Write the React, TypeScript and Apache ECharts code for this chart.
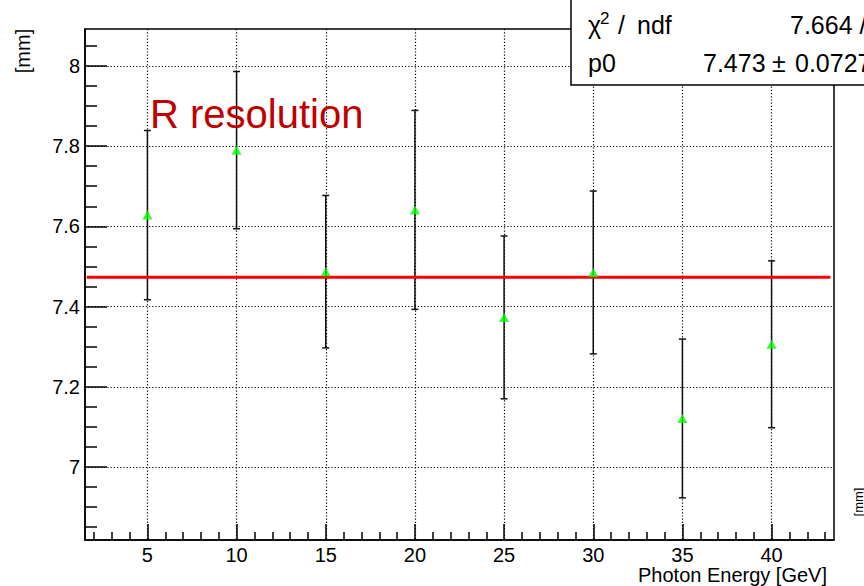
import React, { useEffect, useRef } from "react";
import * as echarts from "echarts";

// ---- data ----
const energies = [5, 10, 15, 20, 25, 30, 35, 40];
const resolution = [7.628, 7.79, 7.487, 7.641, 7.373, 7.485, 7.121, 7.306];
const resolutionErr = [0.211, 0.196, 0.19, 0.248, 0.203, 0.203, 0.198, 0.208];
const fitP0 = 7.473;
const fitRange = [1.6, 43.3];

const xRange = [1.5, 43.5];
const yRange = [6.818, 8.092];
const xMajorTicks = [5, 10, 15, 20, 25, 30, 35, 40];
const xMinorTicks = [2, 3, 4, 6, 7, 8, 9, 11, 12, 13, 14, 16, 17, 18, 19, 21, 22, 23, 24, 26, 27, 28, 29, 31, 32, 33, 34, 36, 37, 38, 39, 41, 42, 43];
const yMajorTicks = [7, 7.2, 7.4, 7.6, 7.8, 8];
const yMinorTicks = [6.85, 6.9, 6.95, 7.05, 7.1, 7.15, 7.25, 7.3, 7.35, 7.45, 7.5, 7.55, 7.65, 7.7, 7.75, 7.85, 7.9, 7.95, 8.05];

const statsChi2 = "7.664 / 7";
const statsP0 = "7.473";
const statsP0Err = "0.0727";

const FONT = "'Liberation Sans', Arial, Helvetica, sans-serif";

export default function App() {
  const ref = useRef<HTMLDivElement>(null);
  useEffect(() => {
    if (!ref.current) return;
    const chart = echarts.init(ref.current, undefined, { renderer: "svg" });
    const axisLineStyle = { color: "#000", width: 1.5 };
    const gridLine = { color: "#000", width: 1.2, type: [1.2, 2] };
    const errData = energies.map((e, i) => [e, resolution[i] - resolutionErr[i], resolution[i] + resolutionErr[i]]);
    const option: any = {
      animation: false,
      backgroundColor: "#fff",
      textStyle: { fontFamily: FONT },
      grid: { left: 85, top: 29, right: 30, bottom: 46, show: true, borderColor: "#000", borderWidth: 1.5, backgroundColor: "transparent" },
      xAxis: [
        {
          type: "value", min: xRange[0], max: xRange[1], position: "bottom",
          axisLine: { show: true, lineStyle: axisLineStyle },
          axisTick: { show: true, inside: true, length: 16, customValues: xMajorTicks, lineStyle: { color: "#000", width: 1.5 } },
          axisLabel: { show: true, customValues: xMajorTicks, fontSize: 20, color: "#000", fontFamily: FONT, margin: 5 },
          splitLine: { show: true, lineStyle: gridLine },
          minorTick: { show: false },
        },
        {
          type: "value", min: xRange[0], max: xRange[1], position: "bottom",
          axisLine: { show: false },
          axisTick: { show: true, inside: true, length: 8, customValues: xMinorTicks, lineStyle: { color: "#000", width: 1.5 } },
          axisLabel: { show: false },
          splitLine: { show: false },
        },
      ],
      yAxis: [
        {
          type: "value", min: yRange[0], max: yRange[1], position: "left",
          axisLine: { show: true, lineStyle: axisLineStyle },
          axisTick: { show: true, inside: true, length: 22, customValues: yMajorTicks, lineStyle: { color: "#000", width: 1.5 } },
          axisLabel: { show: true, customValues: yMajorTicks, fontSize: 20, color: "#000", fontFamily: FONT, margin: 5 },
          splitLine: { show: true, lineStyle: gridLine },
        },
        {
          type: "value", min: yRange[0], max: yRange[1], position: "left",
          axisLine: { show: false },
          axisTick: { show: true, inside: true, length: 12, customValues: yMinorTicks, lineStyle: { color: "#000", width: 1.5 } },
          axisLabel: { show: false },
          splitLine: { show: false },
        },
      ],
      series: [
        {
          type: "custom",
          name: "errors",
          xAxisIndex: 0, yAxisIndex: 0,
          data: errData,
          encode: { x: 0, y: [1, 2] },
          z: 3,
          renderItem: (params: any, api: any) => {
            const x = api.value(0);
            const lo = api.coord([x, api.value(1)]);
            const hi = api.coord([x, api.value(2)]);
            const st = { stroke: "#111", lineWidth: 1.5 };
            const cw = 3.5;
            return {
              type: "group",
              children: [
                { type: "line", shape: { x1: lo[0], y1: lo[1], x2: hi[0], y2: hi[1] }, style: st },
                { type: "line", shape: { x1: hi[0] - cw, y1: hi[1], x2: hi[0] + cw, y2: hi[1] }, style: st },
                { type: "line", shape: { x1: lo[0] - cw, y1: lo[1], x2: lo[0] + cw, y2: lo[1] }, style: st },
              ],
            };
          },
        },
        {
          type: "line",
          name: "fit",
          xAxisIndex: 0, yAxisIndex: 0,
          data: [[fitRange[0], fitP0], [fitRange[1], fitP0]],
          showSymbol: false,
          symbol: "none",
          lineStyle: { color: "#ff0000", width: 3 },
          z: 4,
        },
        {
          type: "scatter",
          name: "points",
          xAxisIndex: 0, yAxisIndex: 0,
          data: energies.map((e, i) => [e, resolution[i]]),
          symbol: "triangle",
          symbolSize: [10, 9],
          itemStyle: { color: "#00ff00" },
          z: 5,
        },
      ],
      graphic: [
        { type: "text", x: 150, y: 114, z: 10, style: { text: "R resolution", fontSize: 40, fontFamily: FONT, fill: "#c00000", align: "left", verticalAlign: "middle" } },
        { type: "text", x: 23, y: 51, rotation: Math.PI / 2, z: 10, style: { text: "[mm]", fontSize: 20, fontFamily: FONT, fill: "#000", align: "center", verticalAlign: "middle" } },
        { type: "text", x: 858, y: 502, rotation: Math.PI / 2, z: 10, style: { text: "[mm]", fontSize: 13, fontFamily: FONT, fill: "#000", align: "center", verticalAlign: "middle" } },
        { type: "text", x: 827, y: 575, z: 10, style: { text: "Photon Energy [GeV]", fontSize: 20, fontFamily: FONT, fill: "#000", align: "right", verticalAlign: "middle" } },
        { type: "rect", z: 20, shape: { x: 571, y: -3, width: 340, height: 88 }, style: { fill: "#fff", stroke: "#000", lineWidth: 1.5 } },
        { type: "text", x: 588, y: 25, z: 21, style: { text: "χ", fontSize: 25, fontFamily: FONT, fill: "#000", align: "left", verticalAlign: "middle" } },
        { type: "text", x: 600, y: 18, z: 21, style: { text: "2", fontSize: 17, fontFamily: FONT, fill: "#000", align: "left", verticalAlign: "middle" } },
        { type: "text", x: 618, y: 25, z: 21, style: { text: "/", fontSize: 25, fontFamily: FONT, fill: "#000", align: "left", verticalAlign: "middle" } },
        { type: "text", x: 637, y: 25, z: 21, style: { text: "ndf", fontSize: 25, fontFamily: FONT, fill: "#000", align: "left", verticalAlign: "middle" } },
        { type: "text", x: 790, y: 25, z: 21, style: { text: statsChi2, fontSize: 25, fontFamily: FONT, fill: "#000", align: "left", verticalAlign: "middle" } },
        { type: "text", x: 588, y: 63, z: 21, style: { text: "p0", fontSize: 25, fontFamily: FONT, fill: "#000", align: "left", verticalAlign: "middle" } },
        { type: "text", x: 703, y: 63, z: 21, style: { text: statsP0, fontSize: 25, fontFamily: FONT, fill: "#000", align: "left", verticalAlign: "middle" } },
        { type: "text", x: 772, y: 63, z: 21, style: { text: "±", fontSize: 25, fontFamily: FONT, fill: "#000", align: "left", verticalAlign: "middle" } },
        { type: "text", x: 795, y: 63, z: 21, style: { text: statsP0Err, fontSize: 25, fontFamily: FONT, fill: "#000", align: "left", verticalAlign: "middle" } },
      ],
    };
    chart.setOption(option);
    return () => chart.dispose();
  }, []);
  return <div ref={ref} style={{ position: "absolute", left: 0, top: 0, width: 864, height: 586, background: "#fff" }} />;
}
